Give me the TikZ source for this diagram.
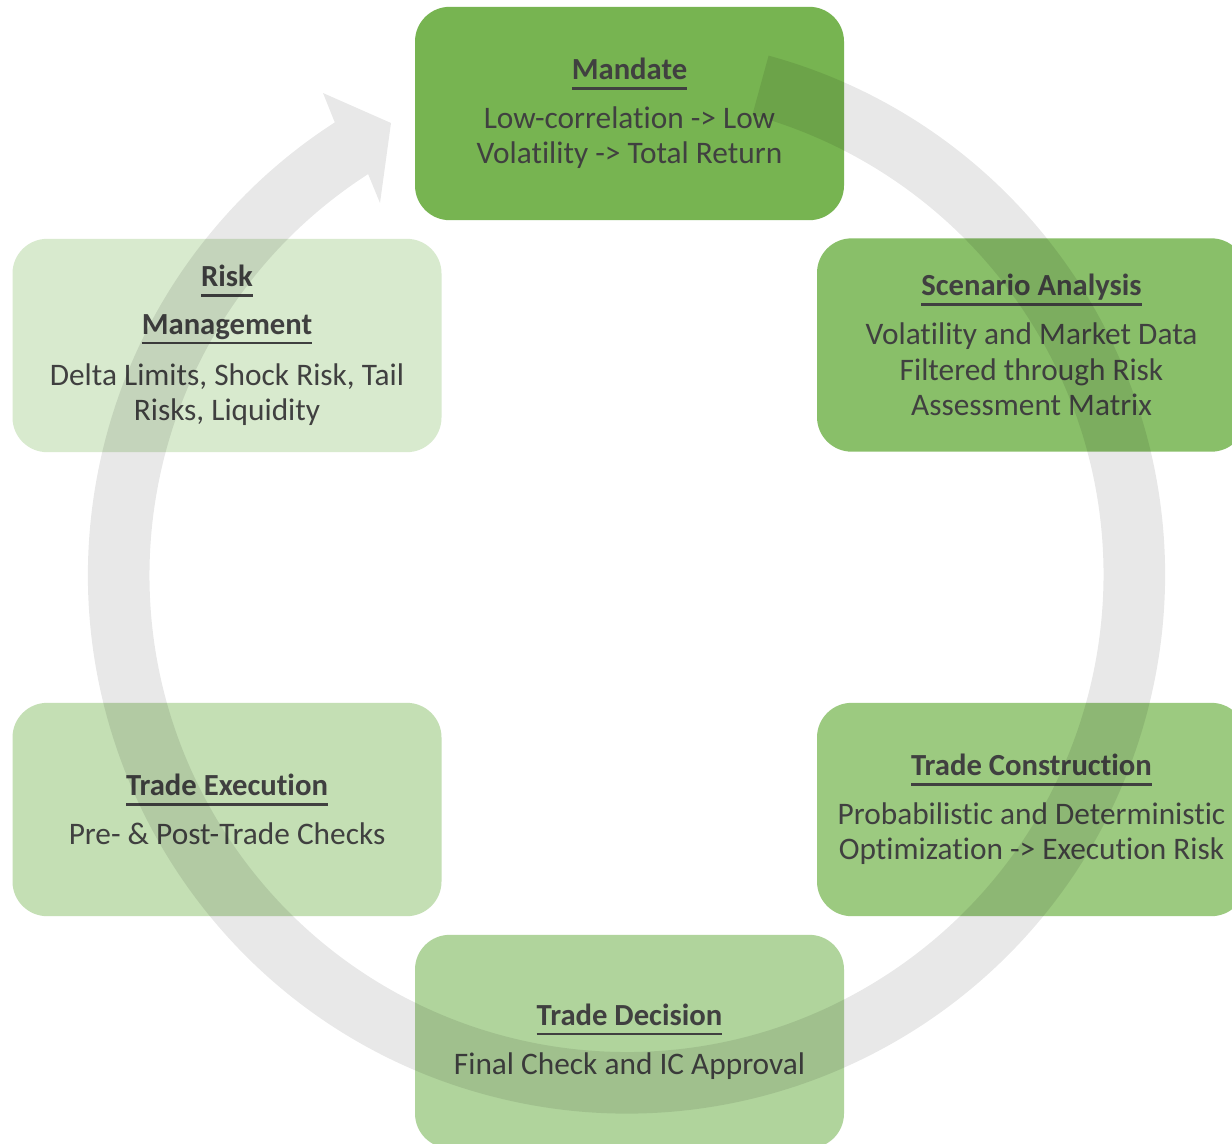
\documentclass[tikz,border=0pt]{standalone}
\usepackage{fontspec}
\setmainfont{Carlito}[Ligatures={TeX,NoCommon}]
\usetikzlibrary{calc}

\definecolor{txt}{RGB}{64,64,64}
\definecolor{gA}{RGB}{119,180,81}
\definecolor{gB}{RGB}{137,191,105}
\definecolor{gC}{RGB}{156,202,128}
\definecolor{gD}{RGB}{176,212,156}
\definecolor{gE}{RGB}{196,223,180}
\definecolor{gF}{RGB}{216,234,206}

% underlined heading with a fixed rule offset
\newcommand\uln[1]{\leavevmode\setbox0\hbox{#1}\rlap{\copy0}\smash{\rule[-7.4pt]{\wd0}{1.8pt}}}
\newcommand\stagetitle[1]{{\fontsize{23}{28}\selectfont\bfseries\uln{#1}}}

\begin{document}
\begin{tikzpicture}[x=0.75pt,y=-0.75pt,
  stage/.style={rounded corners=26pt, minimum width=321.75pt, minimum height=160pt,
    inner sep=0pt, align=center, text=txt, font=\fontsize{23.5}{26.4}\selectfont},
  ringshade/.style={fill=black, fill opacity=0.09}]

\useasboundingbox (0,0) rectangle (1232,1143);
\clip (0,0) rectangle (1232,1143);
\fill[white] (0,0) rectangle (1232,1143);

% cycle stages
\node[stage, fill=gA] (mandate) at (629.5,113.5)
  {\stagetitle{Mandate}\\[10.3pt] Low-correlation -> Low\\ Volatility -> Total Return};
\node[stage, fill=gB] (scenario) at (1031.5,345)
  {\stagetitle{Scenario Analysis}\\[10.3pt] Volatility and Market Data\\ Filtered through Risk\\ Assessment Matrix};
\node[stage, fill=gC] (construction) at (1031.5,809.5)
  {\stagetitle{Trade Construction}\\[10.3pt] Probabilistic and Deterministic\\ Optimization -> Execution Risk};
\node[stage, fill=gD] (decision) at (629.5,1041.5)
  {\stagetitle{Trade Decision}\\[10.3pt] Final Check and IC Approval};
\node[stage, fill=gE] (execution) at (227,809.5)
  {\stagetitle{Trade Execution}\\[10.3pt] Pre- \& Post-Trade Checks};
\node[stage, fill=gF] (risk) at (227,345.5)
  {\stagetitle{Risk}\\[9pt] \stagetitle{Management}\\[12pt] Delta Limits, Shock Risk, Tail\\ Risks, Liquidity};

% circular arrow running clockwise around the stages
\coordinate (c) at (626.5,575);
\fill[ringshade]
  ($(c)+(-74.7:538.5)$) arc[start angle=-74.7, end angle=237.2, radius=538.5]
  -- (323,93) -- (391,123) -- (380,203)
  -- ($(c)+(237.2:477)$) arc[start angle=237.2, end angle=-74.7, radius=477]
  -- cycle;
\end{tikzpicture}
\end{document}
